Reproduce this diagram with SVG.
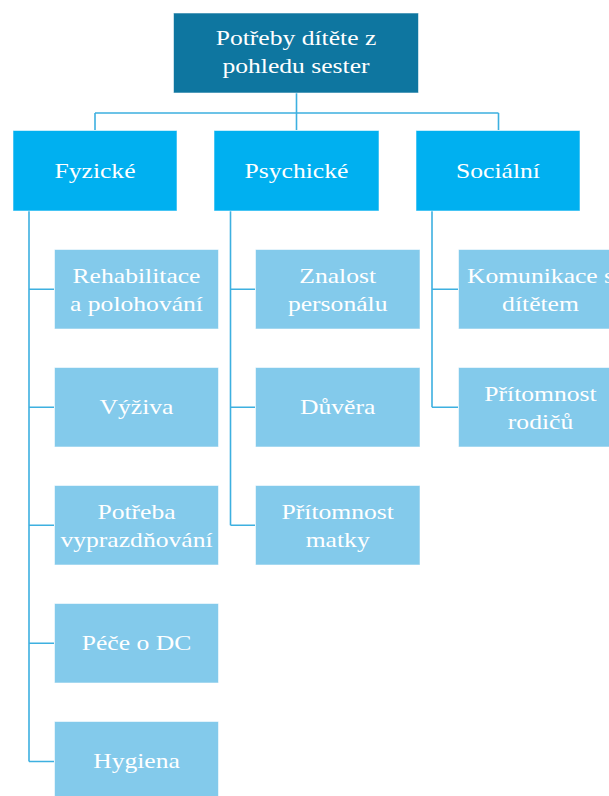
<svg xmlns="http://www.w3.org/2000/svg" width="609" height="796" viewBox="0 0 609 796">
<style>
.box{stroke:#ffffff;stroke-opacity:0.55;stroke-width:1}
.root{fill:#0E76A0}
.l2{fill:#00B0F0}
.l3{fill:#83CAEB}
.con{fill:none;stroke:#3DB0E0;stroke-width:1.6}
text{font-family:"Liberation Serif","Times New Roman",serif;font-size:21px;fill:#ffffff;text-anchor:middle}
</style>
<rect width="609" height="796" fill="#ffffff"/>
<g id="connectors">
<path class="con" d="M296.5 93V113M95 113H498.5M95 113V130M296.5 113V130M498.5 113V130"/>
<path class="con" d="M29 211V761.5M29 289.3H54M29 407.3H54M29 525.3H54M29 643.3H54M29 761.5H54"/>
<path class="con" d="M230.5 211V525.3M230.5 289.3H255M230.5 407.3H255M230.5 525.3H255"/>
<path class="con" d="M432 211V407.3M432 289.3H458M432 407.3H458"/>
</g>
<g id="root">
<rect class="box root" x="173.5" y="13" width="245" height="80"/>
<text transform="translate(296 0) scale(1.22 1)" y="45.5">Potřeby dítěte z</text>
<text transform="translate(296 0) scale(1.22 1)" y="73">pohledu sester</text>
</g>
<g id="fyzicke">
<rect class="box l2" x="13" y="130.5" width="164" height="80.5"/>
<text transform="translate(95 0) scale(1.22 1)" y="178">Fyzické</text>
</g>
<g id="psychicke">
<rect class="box l2" x="214" y="130.5" width="165" height="80.5"/>
<text transform="translate(296.5 0) scale(1.22 1)" y="178">Psychické</text>
</g>
<g id="socialni">
<rect class="box l2" x="416" y="130.5" width="164" height="80.5"/>
<text transform="translate(498 0) scale(1.22 1)" y="178">Sociální</text>
</g>
<g id="rehabilitace">
<rect class="box l3" x="54.5" y="249.5" width="164" height="79.5"/>
<text transform="translate(136.5 0) scale(1.22 1)" y="283">Rehabilitace</text>
<text transform="translate(136.5 0) scale(1.22 1)" y="311">a polohování</text>
</g>
<g id="vyziva">
<rect class="box l3" x="54.5" y="367.5" width="164" height="79.5"/>
<text transform="translate(136.5 0) scale(1.22 1)" y="414.5">Výživa</text>
</g>
<g id="vyprazdnovani">
<rect class="box l3" x="54.5" y="485.5" width="164" height="79.5"/>
<text transform="translate(136.5 0) scale(1.22 1)" y="519">Potřeba</text>
<text transform="translate(136.5 0) scale(1.22 1)" y="547">vyprazdňování</text>
</g>
<g id="pece">
<rect class="box l3" x="54.5" y="603.5" width="164" height="79.5"/>
<text transform="translate(136.5 0) scale(1.22 1)" y="650.5">Péče o DC</text>
</g>
<g id="hygiena">
<rect class="box l3" x="54.5" y="721.5" width="164" height="79.5"/>
<text transform="translate(136.5 0) scale(1.22 1)" y="768.5">Hygiena</text>
</g>
<g id="znalost">
<rect class="box l3" x="255.5" y="249.5" width="164.5" height="79.5"/>
<text transform="translate(337.7 0) scale(1.22 1)" y="283">Znalost</text>
<text transform="translate(337.7 0) scale(1.22 1)" y="311">personálu</text>
</g>
<g id="duvera">
<rect class="box l3" x="255.5" y="367.5" width="164.5" height="79.5"/>
<text transform="translate(337.7 0) scale(1.22 1)" y="414.5">Důvěra</text>
</g>
<g id="matka">
<rect class="box l3" x="255.5" y="485.5" width="164.5" height="79.5"/>
<text transform="translate(337.7 0) scale(1.22 1)" y="519">Přítomnost</text>
<text transform="translate(337.7 0) scale(1.22 1)" y="547">matky</text>
</g>
<g id="komunikace">
<rect class="box l3" x="458.5" y="249.5" width="164" height="79.5"/>
<text transform="translate(540.5 0) scale(1.22 1)" y="283">Komunikace s</text>
<text transform="translate(540.5 0) scale(1.22 1)" y="311">dítětem</text>
</g>
<g id="rodice">
<rect class="box l3" x="458.5" y="367.5" width="164" height="79.5"/>
<text transform="translate(540.5 0) scale(1.22 1)" y="401">Přítomnost</text>
<text transform="translate(540.5 0) scale(1.22 1)" y="429">rodičů</text>
</g>
</svg>
